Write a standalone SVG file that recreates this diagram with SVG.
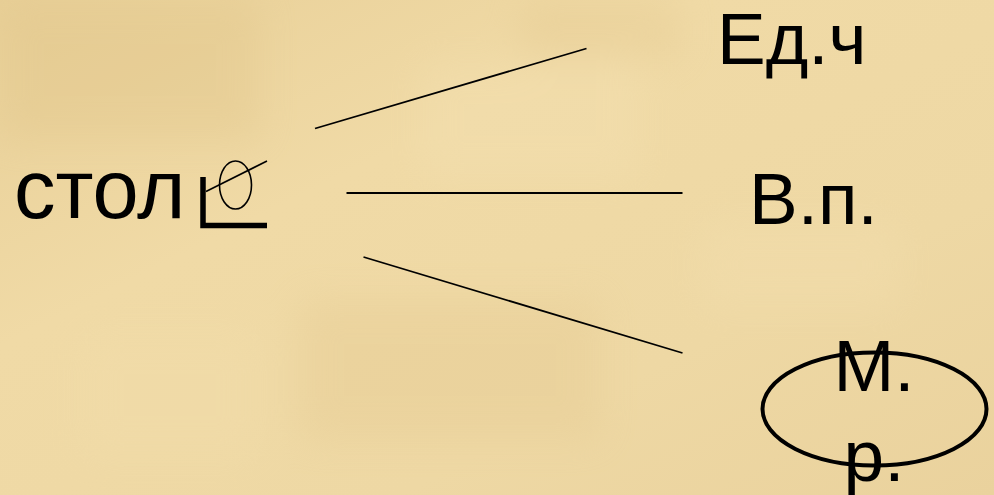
<svg xmlns="http://www.w3.org/2000/svg" width="994" height="495" viewBox="0 0 994 495">
  <defs>
    <linearGradient id="bg" x1="0" y1="0" x2="1" y2="1">
      <stop offset="0" stop-color="#E8CF97"/>
      <stop offset="0.35" stop-color="#F0DAA6"/>
      <stop offset="0.7" stop-color="#EED8A4"/>
      <stop offset="1" stop-color="#EAD29D"/>
    </linearGradient>
    <filter id="blur" x="-20%" y="-20%" width="140%" height="140%">
      <feGaussianBlur stdDeviation="18"/>
    </filter>
    <style>
      .t { font-family: "Liberation Sans", Arial, sans-serif; fill: #000; }
      .conn { stroke: #000; stroke-width: 1.8; fill: none; }
    </style>
  </defs>

  <rect width="994" height="495" fill="url(#bg)"/>
  <g filter="url(#blur)" opacity="0.3">
    <rect x="0" y="0" width="260" height="140" fill="#DEC286"/>
    <rect x="420" y="60" width="220" height="120" fill="#F5E2B4"/>
    <rect x="300" y="300" width="300" height="140" fill="#E3C78E"/>
    <rect x="700" y="220" width="200" height="90" fill="#F4E0B0"/>
    <rect x="80" y="330" width="180" height="130" fill="#F3DEAC"/>
    <rect x="520" y="0" width="160" height="60" fill="#E2C68C"/>
  </g>

  <g id="connectors">
    <line class="conn" x1="315" y1="128.5" x2="586.5" y2="48.5"/>
    <line class="conn" x1="346.5" y1="193" x2="682.5" y2="193"/>
    <line class="conn" x1="363.5" y1="257" x2="682.5" y2="353"/>
  </g>

  <g id="word">
    <text class="t" x="14" y="218" font-size="83">стол</text>
    <g id="morphemes">
      <path d="M203 177 V225.5 H267" stroke="#000" stroke-width="5.5" fill="none"/>
      <ellipse cx="235.5" cy="185" rx="16" ry="24" fill="none" stroke="#000" stroke-width="1.6"/>
      <line x1="206" y1="191.5" x2="267" y2="161" stroke="#000" stroke-width="1.6"/>
    </g>
  </g>

  <g id="node-number">
    <text class="t" x="717" y="64" font-size="73">Ед.ч</text>
  </g>

  <g id="node-case">
    <text class="t" x="749" y="224" font-size="73">В.п.</text>
  </g>

  <g id="node-gender">
    <ellipse cx="874.5" cy="409" rx="112" ry="56.5" fill="none" stroke="#000" stroke-width="4"/>
    <text class="t" x="874" y="391" font-size="73" text-anchor="middle">М.</text>
    <text class="t" x="874" y="481" font-size="73" text-anchor="middle">р.</text>
  </g>
</svg>
